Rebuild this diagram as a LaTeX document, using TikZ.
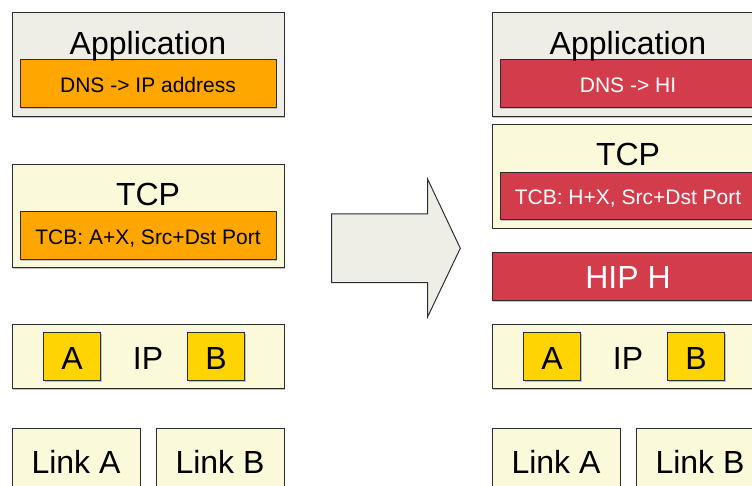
\documentclass[tikz,border=0pt]{standalone}
\usepackage{fontspec}
\setmainfont{Liberation Sans}
\usetikzlibrary{shadows}

\definecolor{appgray}{RGB}{238,238,230}
\definecolor{cream}{RGB}{250,250,218}
\definecolor{tcborange}{RGB}{255,166,0}
\definecolor{addryellow}{RGB}{255,212,0}
\definecolor{hipred}{RGB}{211,60,75}
\definecolor{edge}{RGB}{45,45,45}

\tikzset{
  layer/.style={draw=edge, line width=1pt, inner sep=0pt, outer sep=0pt,
    drop shadow={shadow xshift=1.2pt, shadow yshift=-1.2pt, fill=black!30, opacity=0.8}},
  appfill/.style={layer, fill=appgray},
  creamfill/.style={layer, fill=cream},
  orangefill/.style={layer, fill=tcborange},
  redfill/.style={layer, fill=hipred},
  yellowfill/.style={layer, fill=addryellow},
  big/.style={anchor=base, inner sep=0pt, font=\fontsize{32}{38}\selectfont},
  small/.style={anchor=base, inner sep=0pt, font=\fontsize{21}{25}\selectfont},
  onred/.style={text=white},
}

% box given by its two corners: name, x1, y1, x2, y2, style
\newcommand{\layerbox}[6]{%
  \node[#6, minimum width={#4-#2}, minimum height={#5-#3}]
    (#1) at ({(#2+#4)/2},{(#3+#5)/2}) {};}

\begin{document}
\begin{tikzpicture}[x=1pt, y=-1pt]
\useasboundingbox (0,0) rectangle (752,486);
\clip (0,0) rectangle (752,486);

% ---------- left stack ----------
\layerbox{appL}{12}{12.7}{284}{116.7}{appfill}
\layerbox{dnsL}{20}{60}{276}{108}{orangefill}
\node[big] (appLt) at (148,54.3) {Application};
\node[small] (dnsLt) at (148,92.3) {DNS -> IP address};

\layerbox{tcpL}{12}{164.7}{284}{268}{creamfill}
\layerbox{tcbL}{20}{212}{276}{260}{orangefill}
\node[big] (tcpLt) at (148,205.5) {TCP};
\node[small] (tcbLt) at (148,244.5) {TCB: A+X, Src+Dst Port};

\layerbox{ipL}{12}{324.3}{284}{388.7}{creamfill}
\layerbox{aL}{43.7}{332.3}{100.3}{380.7}{yellowfill}
\layerbox{bL}{187.7}{332.3}{244.3}{380.7}{yellowfill}
\node[big] (aLt) at (72,369) {A};
\node[big] (ipLt) at (148,369) {IP};
\node[big] (bLt) at (216,369) {B};

\layerbox{linkAL}{12}{428.3}{140}{520}{creamfill}
\layerbox{linkBL}{156}{428.3}{284}{520}{creamfill}
\node[big] (linkALt) at (76,473.3) {Link A};
\node[big] (linkBLt) at (220,473.3) {Link B};

% ---------- transition arrow ----------
\draw[draw=edge, line width=1pt, fill=appgray, line join=miter]
  (331.7,214) -- (427.7,214) -- (427.7,179.3) -- (460.3,248.3)
  -- (427.7,316.7) -- (427.7,282.7) -- (331.7,282.7) -- cycle;

% ---------- right stack ----------
\layerbox{appR}{492}{12.7}{764}{116.7}{appfill}
\layerbox{dnsR}{500}{60}{756}{108}{redfill}
\node[big] (appRt) at (628,54.3) {Application};
\node[small, onred] (dnsRt) at (628,92.3) {DNS -> HI};

\layerbox{tcpR}{492}{124.7}{764}{228.3}{creamfill}
\layerbox{tcbR}{500}{172.7}{756}{220}{redfill}
\node[big] (tcpRt) at (628,165.5) {TCP};
\node[small, onred] (tcbRt) at (628,204.5) {TCB: H+X, Src+Dst Port};

\layerbox{hipR}{492}{252.7}{764}{300.7}{redfill}
\node[big, onred] (hipRt) at (628,288.3) {HIP H};

\layerbox{ipR}{492}{324.3}{764}{388.7}{creamfill}
\layerbox{aR}{523.7}{332.3}{580.3}{380.7}{yellowfill}
\layerbox{bR}{667.7}{332.3}{724.3}{380.7}{yellowfill}
\node[big] (aRt) at (552,369) {A};
\node[big] (ipRt) at (628,369) {IP};
\node[big] (bRt) at (696,369) {B};

\layerbox{linkAR}{492}{428.3}{620}{520}{creamfill}
\layerbox{linkBR}{636}{428.3}{764}{520}{creamfill}
\node[big] (linkARt) at (556,473.3) {Link A};
\node[big] (linkBRt) at (700,473.3) {Link B};
\end{tikzpicture}
\end{document}
